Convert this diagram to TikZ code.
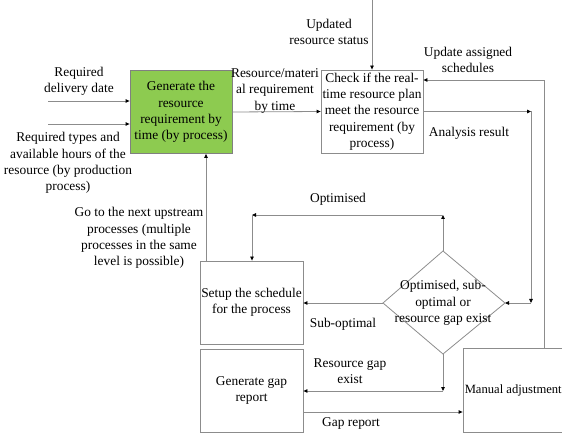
\documentclass[tikz,border=0pt]{standalone}
\usepackage{fontspec}
\setmainfont{Liberation Serif}
\usetikzlibrary{arrows.meta,calc}
\definecolor{lgray}{HTML}{8C8C8C}
\definecolor{boxgreen}{HTML}{8DCB50}
\begin{document}
\begin{tikzpicture}[x=1pt,y=-1pt,
  every node/.style={font=\fontsize{13.4}{16.3}\selectfont},
  box/.style={draw=lgray,line width=0.8pt,minimum width=102pt,minimum height=83pt,inner sep=0pt,align=center},
  arr/.style={draw=lgray,line width=0.8pt,-{Triangle[length=4pt,width=3.5pt,black]}},
  lbl/.style={align=center,inner sep=0pt}]
\useasboundingbox (0,0) rectangle (562,435);
\clip (0,0) rectangle (562,435);
% boxes
\node[box,fill=boxgreen,draw=gray] (green) at (181,112) {Generate the\\resource\\requirement by\\time (by process)};
\node[box] (check) at (372,111.5) {Check if the real-\\time resource plan\\meet the resource\\requirement (by\\process)};
\node[box,minimum width=103pt] (setup) at (251.5,302.5) {Setup the schedule\\for the process};
\node[box,minimum width=103pt] (gap) at (251.5,390.5) {Generate gap\\report};
\node[box,minimum width=100.5pt,minimum height=84pt,font=\fontsize{12.6}{16.3}\selectfont] (manual) at (513.25,390) {Manual adjustment};
% diamond
\coordinate (dT) at (443,251);
\coordinate (dB) at (443,354);
\coordinate (dL) at (383,303);
\coordinate (dR) at (505,303);
\draw[lgray,line width=0.8pt] (dT) -- (dR) -- (dB) -- (dL) -- cycle;
\node[lbl] (dia) at (443,303) {Optimised, sub-\\optimal or\\resource gap exist};
% free ends and corners
\coordinate (in1) at (48,101);
\coordinate (in2) at (48,124);
\coordinate (gotop) at (206,261);
\coordinate (upd) at (372,0);
\coordinate (ua) at (544,80);
\coordinate (ar1) at (531,111.5);
\coordinate (ar2) at (531,303);
\coordinate (op1) at (443,215);
\coordinate (op2) at (252,215);
\coordinate (ge1) at (443,391);
\coordinate (gr) at (303,412);
% connectors
\draw[arr] (in1) -- (in1 -| green.west);
\draw[arr] (in2) -- (in2 -| green.west);
\draw[arr] (gotop) -- (gotop |- green.south);
\draw[arr] (green.east) -- (check.west);
\draw[arr] (upd) -- (check.north);
\draw[lgray,line width=0.8pt] (ua |- manual.north) -- (ua);
\draw[arr] (ua) -- (ua -| check.east);
\draw[arr] (check.east) -- (ar1);
\draw[arr] (ar1) -- (ar2);
\draw[arr] (ar2) -- (dR);
\draw[arr] (dT) -- (op1);
\draw[arr] (op1) -- (op2);
\draw[arr] (op2) -- (op2 |- setup.north);
\draw[arr] (dL) -- (dL -| setup.east);
\draw[arr] (dB) -- (ge1);
\draw[arr] (ge1) -- (ge1 -| gap.east);
\draw[arr] (gr) -- (gr -| manual.west);
% labels
\node[lbl] (l1) at (79,81) {Required\\delivery date};
\node[lbl] (l2) at (68,163) {Required types and\\available hours of the\\resource (by production\\process)};
\node[lbl] (l3) at (275,91) {Resource/materi\\al requirement\\by time};
\node[lbl] (l4) at (329,32) {Updated\\resource status};
\node[lbl] (l5) at (468,60) {Update assigned\\schedules};
\node[lbl] (l6) at (469,133) {Analysis result};
\node[lbl] (l7) at (139,238) {Go to the next upstream\\processes (multiple\\processes in the same\\level is possible)};
\node[lbl] (l8) at (338,199) {Optimised};
\node[lbl] (l9) at (343,324) {Sub-optimal};
\node[lbl] (l10) at (350,371.5) {Resource gap\\exist};
\node[lbl] (l11) at (351,423) {Gap report};
\end{tikzpicture}
\end{document}
